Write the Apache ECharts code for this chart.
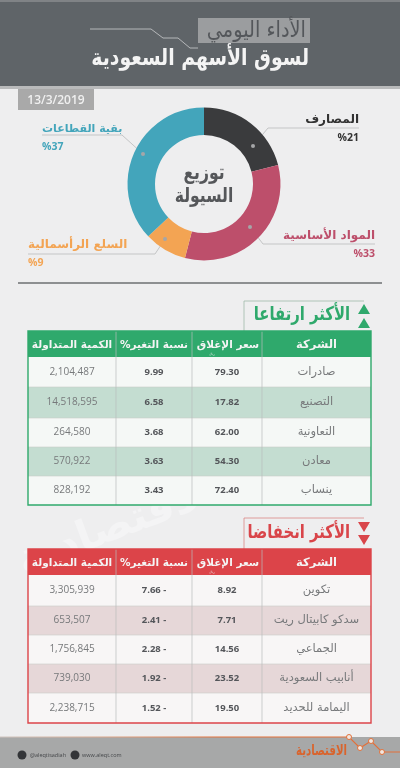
<!DOCTYPE html>
<html><head><meta charset="utf-8">
<style>html,body{margin:0;padding:0;background:#eeeeef}#c{width:400px;height:768px}</style>
<script src="https://cdn.jsdelivr.net/npm/echarts@6/dist/echarts.min.js"></script></head>
<body><div id="c"></div>
<script>
const sectors = ['المصارف','المواد الأساسية','السلع الرأسمالية','بقية القطاعات'];
const shares = [21,33,9,37];
const sectorColors = ['#3a3b3d','#bd4f6b','#f3a453','#43a5bb'];
const tableHeaders = ['الشركة','سعر الإغلاق','%نسبة التغير','الكمية المتداولة'];
const upCompanies = ['صادرات','التصنيع','التعاونية','معادن','ينساب'];
const upClose = ['79.30','17.82','62.00','54.30','72.40'];
const upChange = ['9.99','6.58','3.68','3.63','3.43'];
const upVolume = ['2,104,487','14,518,595','264,580','570,922','828,192'];
const downCompanies = ['تكوين','سدكو كابيتال ريت','الجماعي','أنابيب السعودية','اليمامة للحديد'];
const downClose = ['8.92','7.71','14.56','23.52','19.50'];
const downChange = ['7.66 -','2.41 -','2.28 -','1.92 -','1.52 -'];
const downVolume = ['3,305,939','653,507','1,756,845','739,030','2,238,715'];

const FONT = '"Open Sans","DejaVu Sans",sans-serif';
const AR = '"DejaVu Sans","Noto Sans",sans-serif';
const g = [];
const rect=(x,y,w,h,fill,z=1)=>g.push({type:'rect',silent:true,z,shape:{x,y,width:w,height:h},style:{fill}});
const line=(pts,stroke,lw=1,z=2)=>g.push({type:'polyline',silent:true,z,shape:{points:pts},style:{stroke,lineWidth:lw,fill:null}});
const text=(x,y,t,o={})=>g.push({type:'text',silent:true,z:o.z||5,x,y,scaleX:o.sx||1,rotation:o.rot||0,style:{text:t,fill:o.fill||'#555',font:(o.weight||'normal')+' '+(o.size||11)+'px '+(o.font||AR),textAlign:o.align||'center',textVerticalAlign:'middle',opacity:o.opacity==null?1:o.opacity}});
const tri=(pts,fill)=>g.push({type:'polygon',silent:true,z:4,shape:{points:pts},style:{fill}});

// header
rect(0,0,400,87,'#5f6468');
rect(0,0,400,2,'#808386');
rect(0,86,400,3,'#b9babb');
rect(198,18,112,25,'#9b9d9f',2);
text(306,31,'الأداء اليومي',{size:22,sx:0.88,fill:'#54575b',align:'right'});
text(309,59,'لسوق الأسهم السعودية',{size:23,sx:0.82,fill:'#f4f4f4',align:'right',weight:'bold'});
line([[90,29],[151,29],[163,38],[178,38],[190,48],[198,48]],'#b5b7b9',1,3);
rect(18,89,76,21,'#a9a9a9',2);
text(56,100.5,'13/3/2019',{size:12,fill:'#f0f0f0',font:FONT,weight:'600'});

// donut centre and leaders
text(204,174,'توزيع',{size:20,sx:0.78,fill:'#55575a',weight:'bold'});
text(204,197,'السيولة',{size:20,sx:0.78,fill:'#55575a',weight:'bold'});
const leaders=[
 [[253,146],[268,128],[359,128]],
 [[250,227],[263,244],[375,244]],
 [[165,239],[155,254],[28,254]],
 [[143,154],[122,135],[42,135]]];
leaders.forEach(p=>{
  line(p,'#c4c5c6',1,3);
  g.push({type:'circle',silent:true,z:6,shape:{cx:p[0][0],cy:p[0][1],r:2},style:{fill:'#a5a6a8'}});
});
line([[18,283],[382,283]],'#6d6f72',1.5,2);

// watermark
text(118,527,'الاقتصادية',{size:42,fill:'#f4f4f5',weight:'bold',z:0.5,rot:0.36});

// tables
function table(top,rowsY,main,stripe,white,cols){
  const L=28,R=371;
  rect(L,top,R-L,rowsY[0]-top,main,2);
  const hdrCx=[316.5,228,154,72];
  tableHeaders.forEach((h,i)=>text(hdrCx[i],top+14.5,h,{size:i==0?11.5:10.5,fill:'#f4f4f4',weight:'bold'}));
  for(let r=0;r<5;r++){
    rect(L,rowsY[r],R-L,rowsY[r+1]-rowsY[r],r%2?stripe:white,2);
    const cy=(rowsY[r]+rowsY[r+1])/2;
    text(316.5,cy,cols[0][r],{size:11.5,fill:'#77797b'});
    text(227,cy,cols[1][r],{size:9.5,fill:'#54565a',weight:'bold',font:FONT});
    text(154,cy,cols[2][r],{size:9.5,fill:'#54565a',weight:'bold',font:FONT});
    text(72,cy,cols[3][r],{size:10,fill:'#77797b',font:FONT});
    if(r>0) line([[L,rowsY[r]],[R,rowsY[r]]],'#c9cccb',0.6,3);
  }
  [116,192,262].forEach(x=>line([[x,top],[x,rowsY[5]]],'#b9bcbb',0.7,3));
  g.push({type:'rect',silent:true,z:4,shape:{x:L,y:top,width:R-L,height:rowsY[5]-top},style:{fill:null,stroke:main,lineWidth:1.4}});
  text(212,rowsY[0]-3,'ريال',{size:3,fill:'#e8e8e8'});
}
table(331,[357,387,418,447,476,505],'#2fa96c','#c4ddd1','#f5f8f6',[upCompanies,upClose,upChange,upVolume]);
table(549,[575,606,635,664,693,723],'#dc4449','#e6d7d8','#f8f6f6',[downCompanies,downClose,downChange,downVolume]);

// section titles
line([[244,331],[244,301],[364,301]],'#9fb9aa',0.8,1.5);
text(350,315,'الأكثر ارتفاعا',{size:19,sx:0.78,fill:'#2fa96c',weight:'bold',align:'right'});
tri([[364,304],[358,314],[370,314]],'#2fa96c');
tri([[364,318],[358,328],[370,328]],'#2fa96c');
line([[244,549],[244,518],[364,518]],'#d98587',0.8,1.5);
text(350,533,'الأكثر انخفاضا',{size:19,sx:0.78,fill:'#d9454a',weight:'bold',align:'right'});
tri([[358,522],[370,522],[364,532]],'#d9454a');
tri([[358,535],[370,535],[364,545]],'#d9454a');

// footer
rect(0,737,400,31,'#a7a8a8',1);
line([[0,737],[349,737],[360,748],[371,741],[382,752],[400,752]],
  new echarts.graphic.LinearGradient(0,0,1,0,[{offset:0,color:'#cfc6c1'},{offset:0.25,color:'#d9a98f'},{offset:0.55,color:'#e2703a'},{offset:1,color:'#e2703a'}]),1.2,3);
[[349,737],[360,748],[371,741],[382,752]].forEach(p=>g.push({type:'circle',silent:true,z:4,shape:{cx:p[0],cy:p[1],r:2.5},style:{fill:'#f0e8e2',stroke:'#e2703a',lineWidth:1}}));
[[22,755],[75,755]].forEach(p=>g.push({type:'circle',silent:true,z:3,shape:{cx:p[0],cy:p[1],r:4.5},style:{fill:'#333538'}}));
text(30,755,'@aleqtisadiah',{size:5.5,fill:'#45474a',align:'left',font:FONT});
text(82,755,'www.aleqt.com',{size:5.5,fill:'#45474a',align:'left',font:FONT});
text(321.5,751,'الاقتصادية',{size:15,sx:0.68,fill:'#d9642d',weight:'bold'});

const labelPos=[[359,129,'right'],[375,245,'right'],[28,254,'left'],[42,138,'left']];
const labelSizes=[12,12,12,11];
const chart=echarts.init(document.getElementById('c'),null,{renderer:'canvas'});
chart.setOption({
  animation:false,
  backgroundColor:'#eeeeef',
  graphic:g,
  series:[{
    type:'pie',z:3,silent:true,
    center:[204,184],radius:[49,76.5],startAngle:90,clockwise:true,
    labelLine:{show:false},
    label:{
      show:true,overflow:'none',
      formatter:p=>'{n|'+p.name+'}\n{p|%'+p.value+'}',
      rich:{n:{fontFamily:AR,fontSize:12,fontWeight:'bold',height:18,lineHeight:18},p:{fontFamily:FONT,fontSize:10.5,fontWeight:'bold',height:18,lineHeight:18}}
    },
    labelLayout:params=>{
      const q=labelPos[params.dataIndex];
      return {x:q[0],y:q[1],align:q[2],verticalAlign:'middle'};
    },
    data:sectors.map((n,i)=>({name:n,value:shares[i],itemStyle:{color:sectorColors[i]},label:{color:sectorColors[i],rich:{n:{fontSize:labelSizes[i],color:i==0?'#333':sectorColors[i]},p:{color:i==0?'#333':sectorColors[i]}}}}))
  }]
});
</script></body></html>
